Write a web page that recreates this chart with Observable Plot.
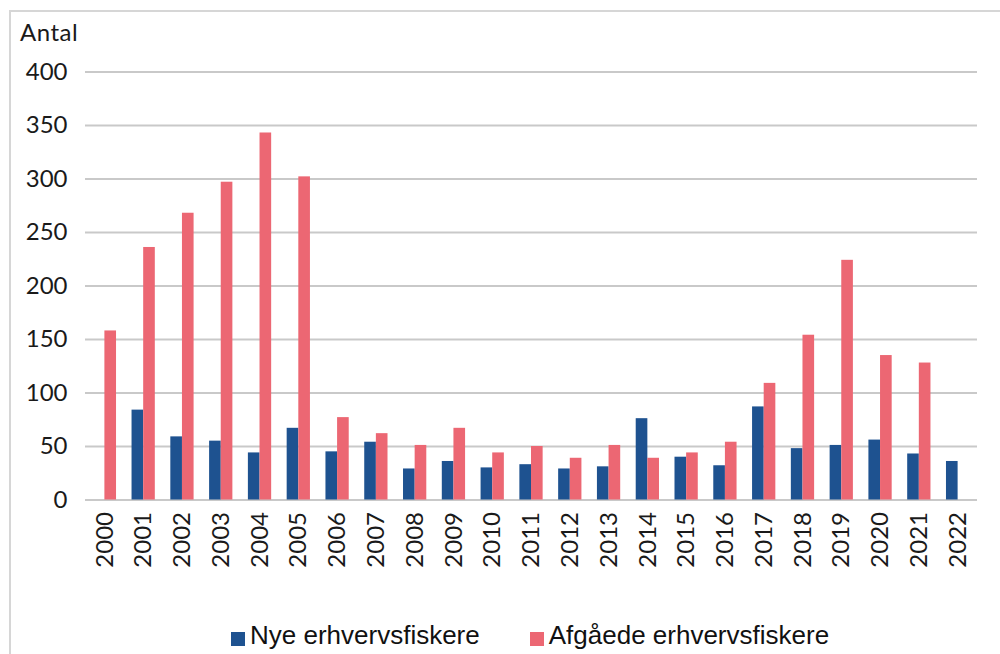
<!DOCTYPE html>
<html>
<head>
<meta charset="utf-8">
<script src="https://cdn.jsdelivr.net/npm/d3@7"></script>
<script src="https://cdn.jsdelivr.net/npm/@observablehq/plot@0.6"></script>
<style>
  html, body { margin: 0; padding: 0; background: #fff; width: 1000px; height: 654px; overflow: hidden; }
  #frame { position: absolute; left: 9px; top: 10px; width: 1100px; height: 700px; border: 2px solid #d6d6d6; box-sizing: border-box; }
  #chart { position: absolute; left: 0; top: 0; }
  #ylabel { position: absolute; left: 20px; top: 17px; font-family: Lato, sans-serif; font-size: 24px; font-weight: 400; color: #1a1a1a; letter-spacing: 0.5px; }
  #legend { position: absolute; left: 231px; top: 620px; font-family: "Liberation Sans", Arial, sans-serif; font-size: 26px; color: #111; display: flex; align-items: center; }
  .sw { display: inline-block; width: 14px; height: 14px; margin-right: 5px; margin-top: 6px; }
  .item { display: flex; align-items: center; }
</style>
</head>
<body>
<div id="frame"></div>
<div id="chart"></div>
<div id="ylabel">Antal</div>
<div id="legend"></div>
<script>
const years = ["2000","2001","2002","2003","2004","2005","2006","2007","2008","2009","2010","2011","2012","2013","2014","2015","2016","2017","2018","2019","2020","2021","2022"];
const nye =     [null, 84, 59, 55, 44, 67, 45, 54, 29, 36, 30, 33, 29, 31, 76, 40, 32, 87, 48, 51, 56, 43, 36];
const afgaede = [158, 236, 268, 297, 343, 302, 77, 62, 51, 67, 44, 50, 39, 51, 39, 44, 54, 109, 154, 224, 135, 128, null];
const seriesNames = ["Nye erhvervsfiskere", "Afgåede erhvervsfiskere"];
const seriesColors = ["#1e5290", "#ec6773"];
const yTicks = [0, 50, 100, 150, 200, 250, 300, 350, 400];

const nyeRows = years.map((y, i) => ({year: y, value: nye[i]})).filter(d => d.value != null);
const afgRows = years.map((y, i) => ({year: y, value: afgaede[i]})).filter(d => d.value != null);

const W = 1000, H = 600;
const mL = 85, mR = 23, mT = 71.5, mB = 100.5;
const step = (W - mL - mR) / years.length;
const barW = step * 0.3;
const half = step / 2;

const chart = Plot.plot({
  width: W,
  height: H,
  marginLeft: mL,
  marginRight: mR,
  marginTop: mT,
  marginBottom: mB,
  style: {fontFamily: "Lato, sans-serif", fontSize: "24px", fontWeight: 400, color: "#1a1a1a", background: "transparent"},
  x: {type: "band", domain: years, paddingInner: 0, paddingOuter: 0, align: 0.5, round: false, label: null},
  y: {domain: [0, 400], label: null},
  marks: [
    Plot.ruleY(yTicks, {stroke: "#c9c9c9", strokeWidth: 2}),
    Plot.barY(nyeRows, {x: "year", y: "value", fill: seriesColors[0], insetLeft: half - barW, insetRight: half}),
    Plot.barY(afgRows, {x: "year", y: "value", fill: seriesColors[1], insetLeft: half, insetRight: half - barW}),
    Plot.axisY(yTicks, {tickSize: 0, tickPadding: 18, label: null, fontSize: 24, letterSpacing: 3}),
    Plot.axisX({tickSize: 0, tickPadding: 12, tickRotate: -90, label: null, fontSize: 24, letterSpacing: 3})
  ]
});
document.getElementById("chart").appendChild(chart);

const legend = document.getElementById("legend");
seriesNames.forEach((name, i) => {
  const item = document.createElement("div");
  item.className = "item";
  if (i > 0) item.style.marginLeft = "50px";
  const sw = document.createElement("span");
  sw.className = "sw";
  sw.style.background = seriesColors[i];
  const t = document.createElement("span");
  t.textContent = name;
  item.appendChild(sw);
  item.appendChild(t);
  legend.appendChild(item);
});
</script>
</body>
</html>
